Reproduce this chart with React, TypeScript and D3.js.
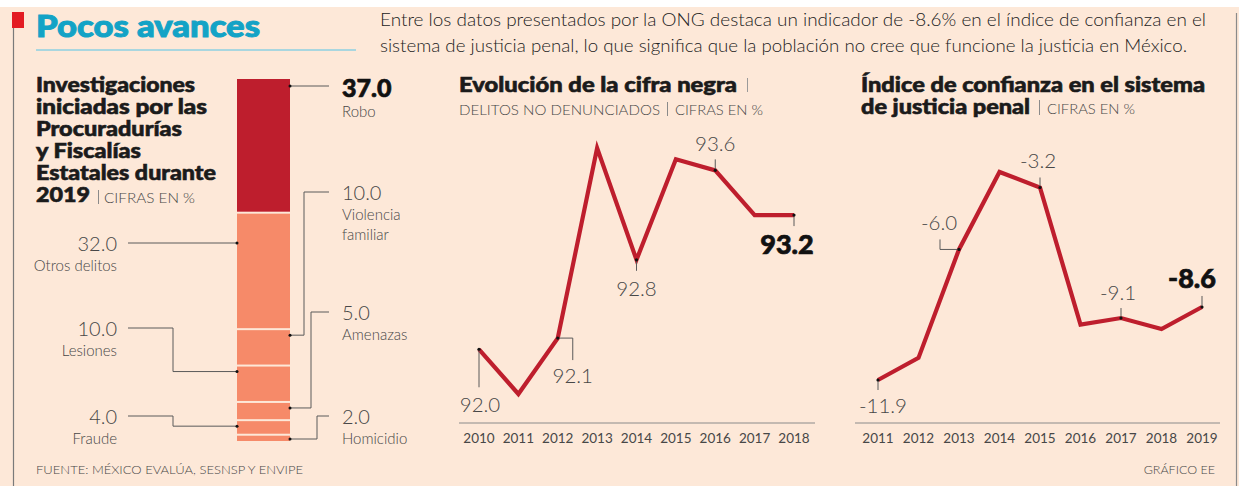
import React from 'react';
import * as d3 from 'd3';

// ---------- DATA ----------
const crimeCategories = ['Robo', 'Otros delitos', 'Violencia familiar', 'Lesiones', 'Amenazas', 'Fraude', 'Homicidio'];
const crimeShares = [37.0, 32.0, 10.0, 10.0, 5.0, 4.0, 2.0];

const cifraYears = [2010, 2011, 2012, 2013, 2014, 2015, 2016, 2017, 2018];
const cifraValues = [92.0, 91.6, 92.1, 93.8, 92.8, 93.7, 93.6, 93.2, 93.2];

const confYears = [2011, 2012, 2013, 2014, 2015, 2016, 2017, 2018, 2019];
const confValues = [-11.9, -10.9, -6.0, -2.5, -3.2, -9.4, -9.1, -9.6, -8.6];

const cifraLabeled = [0, 2, 4, 6, 8];
const confLabeled = [0, 2, 4, 6, 8];

// ---------- STYLE ----------
const BG = '#fde8d8';
const RED = '#be1e2d';
const SALMON = '#f68a69';
const DARK = '#1b1b1b';
const GRAY = '#474747';
const LINE = '#5a5a5a';
const FONT = 'Lato, "Open Sans", sans-serif';

// layout for stacked-bar labels (side, line y, elbow x)
const barLayout = [
  { side: 'right', lineY: 86, elbowX: null, bold: true },
  { side: 'left', lineY: 243, elbowX: null },
  { side: 'right', lineY: 192, elbowX: 304 },
  { side: 'left', lineY: 328, elbowX: 173 },
  { side: 'right', lineY: 312, elbowX: 311 },
  { side: 'left', lineY: 416, elbowX: 173 },
  { side: 'right', lineY: 416, elbowX: 317 },
];

// layout for line chart labels
const cifraLabelLayout = [
  { type: 'below', len: 38, tdx: 1, tdy: 63 },
  { type: 'elbowRight', ex: 15, ey: 22, tdx: 15, tdy: 45 },
  { type: 'below', len: 11, tdx: 0, tdy: 36 },
  { type: 'above', len: 11, tdx: 0, tdy: -19 },
  { type: 'below', len: 11, tdx: -7, tdy: 39, bold: true },
];
const confLabelLayout = [
  { type: 'below', len: 10, tdx: 5, tdy: 33 },
  { type: 'elbowLeft', ex: 19, ey: 10, tdx: -20, tdy: -19 },
  { type: 'above', len: 10, tdx: -2, tdy: -19 },
  { type: 'above', len: 10, tdx: -3, tdy: -18 },
  { type: 'above', len: 11, tdx: -10, tdy: -19, bold: true },
];

function fmt(v: number) {
  return v.toFixed(1);
}

const boldStroke = (c: string, w = 0.5) => ({ stroke: c, strokeWidth: w, paintOrder: 'stroke' as any });

function LineChart(props: {
  years: number[];
  values: number[];
  xRange: [number, number];
  yDomain: [number, number];
  yRange: [number, number];
  axisX: [number, number];
  axisY: number;
  labeled: number[];
  layout: any[];
}) {
  const { years, values, xRange, yDomain, yRange, axisX, axisY, labeled, layout } = props;
  const x = d3.scalePoint<number>().domain(years).range(xRange);
  const y = d3.scaleLinear().domain(yDomain).range(yRange);
  const line = d3
    .line<number>()
    .x((_, i) => x(years[i]) as number)
    .y((d) => y(d));
  return (
    <g>
      <line x1={axisX[0]} x2={axisX[1]} y1={axisY} y2={axisY} stroke="#8a8a8a" strokeWidth={1} />
      {years.map((yr) => (
        <text key={yr} x={x(yr)} y={axisY + 20} textAnchor="middle" fontSize={13.5} fill={GRAY} fontFamily={FONT}>
          {yr}
        </text>
      ))}
      <path d={line(values) || ''} fill="none" stroke={RED} strokeWidth={4.2} strokeLinejoin="miter" strokeLinecap="butt" />
      {labeled.map((idx, k) => {
        const L = layout[k];
        const px = x(years[idx]) as number;
        const py = y(values[idx]);
        let d = '';
        if (L.type === 'below') d = `M${px},${py}V${py + L.len}`;
        else if (L.type === 'above') d = `M${px},${py}V${py - L.len}`;
        else if (L.type === 'elbowRight') d = `M${px},${py}H${px + L.ex}V${py + L.ey}`;
        else if (L.type === 'elbowLeft') d = `M${px},${py}H${px - L.ex}V${py - L.ey}`;
        return (
          <g key={idx}>
            <path d={d} fill="none" stroke={LINE} strokeWidth={1} />
            <circle cx={px} cy={py} r={1.6} fill="#111" />
            <text
              x={px + L.tdx}
              y={py + L.tdy}
              textAnchor="middle"
              fontSize={L.bold ? 27 : 20.5}
              fontWeight={L.bold ? 900 : 300}
              fill={L.bold ? '#111' : GRAY}
              fontFamily={FONT}
              {...(L.bold ? boldStroke('#111', 0.7) : {})}
            >
              {fmt(values[idx])}
            </text>
          </g>
        );
      })}
    </g>
  );
}

export default function App() {
  const W = 1239;
  const H = 486;

  // stacked bar
  const barX0 = 237;
  const barX1 = 290;
  const barY = d3.scaleLinear().domain([0, 100]).range([78, 442]);
  const cums = [0, ...Array.from(d3.cumsum(crimeShares))];

  return (
    <svg width={W} height={H} style={{ position: 'absolute', left: 0, top: 0 }} fontFamily={FONT}>
      <rect x={0} y={0} width={W} height={H} fill="#ffffff" />
      <rect x={0} y={7} width={W} height={H - 7} fill={BG} />
      {/* frame */}
      <line x1={13.5} x2={13.5} y1={28} y2={H} stroke="#7a7a7a" strokeWidth={1.2} />
      <rect x={12} y={12} width={12} height={16} fill="#e31b23" />
      <line x1={1236.5} x2={1236.5} y1={13} y2={H} stroke="#8a8a8a" strokeWidth={1.2} />

      {/* header */}
      <text
        x={36}
        y={37}
        fontSize={31}
        fontWeight={900}
        fill="#13a3c6"
        textLength={224}
        lengthAdjust="spacingAndGlyphs"
        {...boldStroke('#13a3c6', 1)}
      >
        Pocos avances
      </text>
      <line x1={36} x2={356} y1={50} y2={50} stroke="#a9d6df" strokeWidth={2} />
      <text x={380} y={26} fontSize={17.5} fontWeight={300} fill="#222" textLength={826} lengthAdjust="spacingAndGlyphs">
        Entre los datos presentados por la ONG destaca un indicador de -8.6% en el índice de confianza en el
      </text>
      <text x={380} y={52} fontSize={17.5} fontWeight={300} fill="#222" textLength={807} lengthAdjust="spacingAndGlyphs">
        sistema de justicia penal, lo que significa que la población no cree que funcione la justicia en México.
      </text>

      {/* left panel title */}
      {[
        ['Investigaciones', 159],
        ['iniciadas por las', 171],
        ['Procuradurías', 146],
        ['y Fiscalías', 105],
        ['Estatales durante', 180],
        ['2019', 54],
      ].map(([t, w], i) => (
        <text
          key={i}
          x={36}
          y={92 + i * 22}
          fontSize={20}
          fontWeight={900}
          fill={DARK}
          textLength={w as number}
          lengthAdjust="spacingAndGlyphs"
          {...boldStroke(DARK, 0.6)}
        >
          {t}
        </text>
      ))}
      <line x1={98.5} x2={98.5} y1={190} y2={204} stroke="#8a8a8a" strokeWidth={1} />
      <text x={104} y={203} fontSize={14.5} fontWeight={300} fill={GRAY} textLength={91} lengthAdjust="spacingAndGlyphs">
        CIFRAS EN %
      </text>

      {/* stacked bar */}
      {crimeShares.map((v, i) => {
        const y0 = barY(cums[i]);
        const y1 = barY(cums[i + 1]);
        return (
          <rect
            key={i}
            x={barX0}
            y={y0 + 1}
            width={barX1 - barX0}
            height={Math.max(0, y1 - y0 - 2)}
            fill={i === 0 ? RED : SALMON}
          />
        );
      })}
      {crimeShares.map((v, i) => {
        const L = barLayout[i];
        const y0 = barY(cums[i]);
        const y1 = barY(cums[i + 1]);
        const dotY = Math.min(Math.max(L.lineY, y0 + 6), y1 - 3);
        const name = crimeCategories[i];
        const nameLines = name === 'Violencia familiar' ? ['Violencia', 'familiar'] : [name];
        if (L.side === 'right') {
          const d =
            L.elbowX == null
              ? `M${barX1},${dotY}H329`
              : `M${barX1},${dotY}H${L.elbowX}V${L.lineY}H329`;
          return (
            <g key={i}>
              <path d={d} fill="none" stroke={LINE} strokeWidth={1} />
              <circle cx={barX1} cy={dotY} r={1.5} fill="#111" />
              <text
                x={342}
                y={L.lineY + (L.bold ? 11 : 8)}
                fontSize={L.bold ? 25 : 20}
                fontWeight={L.bold ? 900 : 300}
                fill={L.bold ? '#111' : GRAY}
                {...(L.bold ? boldStroke('#111', 0.7) : {})}
              >
                {fmt(v)}
              </text>
              {nameLines.map((t, j) => (
                <text key={j} x={342} y={L.lineY + (L.bold ? 31 : 28) + j * 20} fontSize={15} fontWeight={300} fill={GRAY}>
                  {t}
                </text>
              ))}
            </g>
          );
        } else {
          const d =
            L.elbowX == null
              ? `M${barX0},${dotY}H128`
              : `M${barX0},${dotY}H${L.elbowX}V${L.lineY}H128`;
          return (
            <g key={i}>
              <path d={d} fill="none" stroke={LINE} strokeWidth={1} />
              <circle cx={barX0} cy={dotY} r={1.5} fill="#111" />
              <text x={117} y={L.lineY + 8} textAnchor="end" fontSize={20} fontWeight={300} fill={GRAY}>
                {fmt(v)}
              </text>
              <text x={117} y={L.lineY + 28} textAnchor="end" fontSize={15} fontWeight={300} fill={GRAY}>
                {name}
              </text>
            </g>
          );
        }
      })}

      {/* middle chart */}
      <text
        x={459}
        y={92}
        fontSize={20}
        fontWeight={900}
        fill={DARK}
        textLength={278}
        lengthAdjust="spacingAndGlyphs"
        {...boldStroke(DARK, 0.6)}
      >
        Evolución de la cifra negra
      </text>
      <line x1={747.5} x2={747.5} y1={78} y2={92} stroke="#9a9a9a" strokeWidth={1} />
      <text x={459} y={115} fontSize={14.5} fontWeight={300} fill={GRAY} textLength={201} lengthAdjust="spacingAndGlyphs">
        DELITOS NO DENUNCIADOS
      </text>
      <line x1={667.5} x2={667.5} y1={102} y2={116} stroke="#8a8a8a" strokeWidth={1} />
      <text x={675} y={115} fontSize={14.5} fontWeight={300} fill={GRAY} textLength={88} lengthAdjust="spacingAndGlyphs">
        CIFRAS EN %
      </text>
      <LineChart
        years={cifraYears}
        values={cifraValues}
        xRange={[479, 794]}
        yDomain={[91.6, 93.8]}
        yRange={[394, 148]}
        axisX={[459, 815]}
        axisY={423}
        labeled={cifraLabeled}
        layout={cifraLabelLayout}
      />

      {/* right chart */}
      <text
        x={861}
        y={92}
        fontSize={20}
        fontWeight={900}
        fill={DARK}
        textLength={344}
        lengthAdjust="spacingAndGlyphs"
        {...boldStroke(DARK, 0.6)}
      >
        Índice de confianza en el sistema
      </text>
      <text
        x={861}
        y={114}
        fontSize={20}
        fontWeight={900}
        fill={DARK}
        textLength={169}
        lengthAdjust="spacingAndGlyphs"
        {...boldStroke(DARK, 0.6)}
      >
        de justicia penal
      </text>
      <line x1={1039.5} x2={1039.5} y1={100} y2={115} stroke="#8a8a8a" strokeWidth={1} />
      <text x={1047} y={114} fontSize={14.5} fontWeight={300} fill={GRAY} textLength={88} lengthAdjust="spacingAndGlyphs">
        CIFRAS EN %
      </text>
      <LineChart
        years={confYears}
        values={confValues}
        xRange={[878, 1202]}
        yDomain={[-11.9, -2.5]}
        yRange={[380, 172]}
        axisX={[855, 1220]}
        axisY={423}
        labeled={confLabeled}
        layout={confLabelLayout}
      />

      {/* footer */}
      <text x={36} y={474} fontSize={12.5} fontWeight={300} fill={GRAY} textLength={267} lengthAdjust="spacingAndGlyphs">
        FUENTE: MÉXICO EVALÚA, SESNSP Y ENVIPE
      </text>
      <text x={1215} y={474} textAnchor="end" fontSize={12.5} fontWeight={300} fill={GRAY}>
        GRÁFICO EE
      </text>
    </svg>
  );
}
